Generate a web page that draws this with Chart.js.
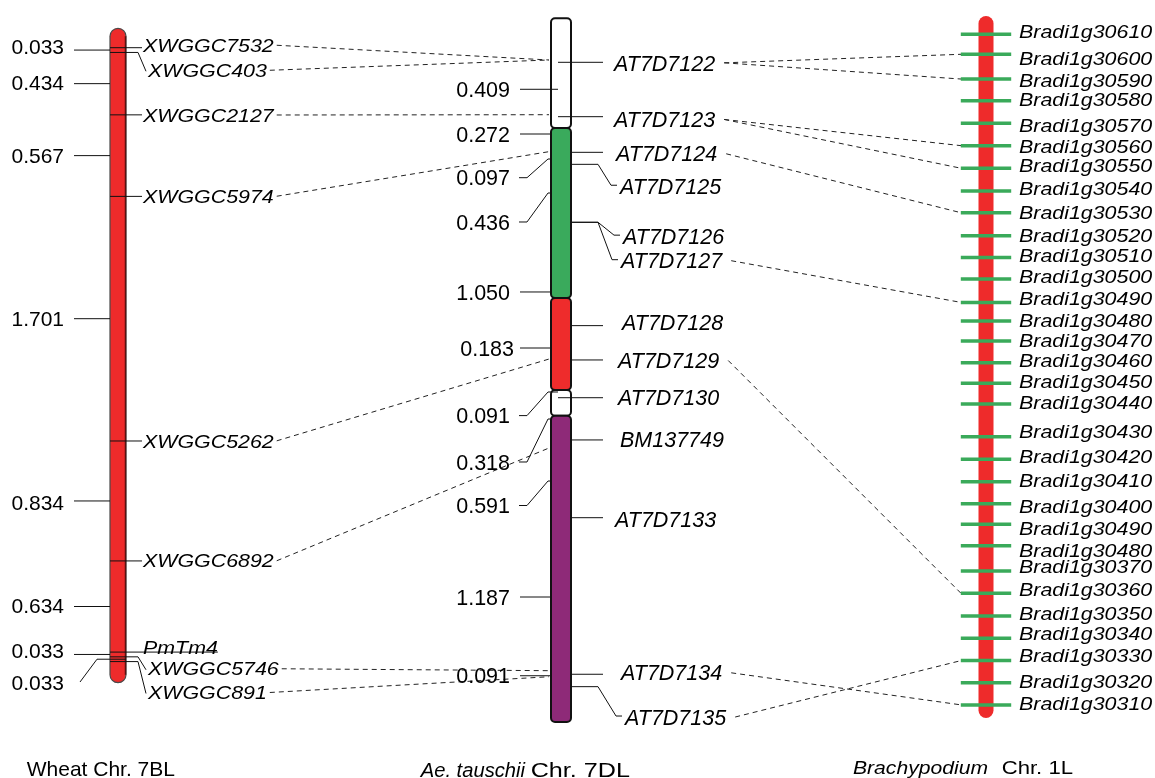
<!DOCTYPE html>
<html><head><meta charset="utf-8">
<script src="https://cdn.jsdelivr.net/npm/chart.js@4.4.0/dist/chart.umd.min.js"></script>
<style>html,body{margin:0;padding:0;background:#fff}#wrap{width:1155px;height:778px;position:relative}</style>
</head><body><div id="wrap"><canvas id="c"></canvas></div>
<script>
// ---------- Wheat Chr. 7BL (positions in cM) ----------
const wheatMarkers = ["XWGGC7532","XWGGC403","XWGGC2127","XWGGC5974","XWGGC5262","XWGGC6892","PmTm4","XWGGC5746","XWGGC891"];
const wheatIntervals = [0.033,0.434,0.567,1.701,0.834,0.634,0.033,0.033];
const wheatIntervalText = ["0.033","0.434","0.567","1.701","0.834","0.634","0.033","0.033"];
const wheatLabelPos = [-0.017,0.157,0.468,1.033,2.734,3.568,4.168,4.319,4.484];
const wheatIntervalLabelPos = [-0.007,0.245,0.751,1.880,3.166,3.882,4.194,4.411];
const wheatLeader = ["s","b","s","s","s","s","u","b","b"];
const wheatChromExtent = [-0.135,4.416];

// ---------- Ae. tauschii Chr. 7DL (positions in cM) ----------
const aeMarkers = ["AT7D7122","AT7D7123","AT7D7124","AT7D7125","AT7D7126","AT7D7127","AT7D7128","AT7D7129","AT7D7130","BM137749","AT7D7133","AT7D7134","AT7D7135"];
const aePositions = [0,0.412,0.682,0.773,1.212,1.212,1.995,2.255,2.541,2.861,3.450,4.636,4.730];
const aeLabelPos = [0.004,0.433,0.693,0.939,1.317,1.503,1.973,2.259,2.539,2.855,3.464,4.625,4.960];
const aeIntervalText = ["0.409","0.272","0.097","0.436","1.050","0.183","0.091","0.318","0.591","1.187","0.091"];
const aeIntervalTickPos = [0.2045,0.5432,0.7326,0.9902,1.740,2.1644,2.4977,2.7023,3.1720,4.0508,4.6473];
const aeIntervalLabelPos = [0.2045,0.5432,0.8742,1.2098,1.740,2.1644,2.6765,3.0280,3.3576,4.0508,4.6473];
const aeSegmentStart = [-0.333,0.498,1.786,2.483,2.677];
const aeSegmentEnd   = [0.498,1.786,2.483,2.677,4.998];
const aeSegmentColor = [null,"#3aaa5c","#ee2c2c",null,"#8e2a78"];

// ---------- Brachypodium Chr. 1L (relative physical order units) ----------
const bradiGenes = ["Bradi1g30610","Bradi1g30600","Bradi1g30590","Bradi1g30580","Bradi1g30570","Bradi1g30560","Bradi1g30550","Bradi1g30540","Bradi1g30530","Bradi1g30520","Bradi1g30510","Bradi1g30500","Bradi1g30490","Bradi1g30480","Bradi1g30470","Bradi1g30460","Bradi1g30450","Bradi1g30440","Bradi1g30430","Bradi1g30420","Bradi1g30410","Bradi1g30400","Bradi1g30490","Bradi1g30480","Bradi1g30370","Bradi1g30360","Bradi1g30350","Bradi1g30340","Bradi1g30330","Bradi1g30320","Bradi1g30310"];
const bradiPositions = [0,0.894,2.0,2.97,3.98,4.98,5.99,7.01,7.98,9.01,9.98,10.94,11.99,12.82,13.72,14.69,15.61,16.53,18.0,19.01,20.01,21.0,21.91,22.87,24.0,25.0,26.01,27.01,28.01,29.0,29.99];
const bradiLabelPos = [-0.116,1.073,2.044,2.907,4.056,4.995,5.877,6.887,7.979,9.007,9.870,10.81,11.81,12.78,13.68,14.57,15.51,16.48,17.77,18.86,19.93,21.13,22.09,23.06,23.81,24.82,25.89,26.79,27.76,28.95,29.91];
const bradiChromExtent = [-0.818,30.58];

// ---------- Synteny links ----------
const wheatAeLinks = [[0,0],[1,0],[2,1],[3,2],[4,7],[5,9],[7,11],[8,11]];
const wheatAeLinkEnd = [-0.0174,-0.0174,0.397,0.677,2.248,2.922,4.609,4.655];
const aeBradiLinks = [[0,1],[0,2],[1,5],[1,6],[2,8],[5,12],[7,25],[11,30],[12,28]];

// ---------- Titles ----------
const titles = [
  [["Wheat Chr. 7BL", false, 26.7, 175]],
  [["Ae. tauschii", true, 420.7, 525], ["Chr. 7DL", false, 530.7, 630]],
  [["Brachypodium", true, 853, 988], ["Chr. 1L", false, 1001.7, 1073]]
];

const FONT = '"Liberation Sans", Arial, Helvetica, sans-serif';
function setFont(ctx, size, italic){ ctx.font = (italic?'italic ':'') + size + 'px ' + FONT; }
function textW(ctx, s, size, italic, sx){ ctx.save(); setFont(ctx,size,italic); const w = ctx.measureText(s).width*(sx||1); ctx.restore(); return w; }
function txt(ctx, s, x, yc, size, italic, sx, align){
  ctx.save(); setFont(ctx,size,italic); ctx.textAlign = align||'left'; ctx.textBaseline='alphabetic';
  ctx.fillStyle='#000'; ctx.translate(x, yc + 0.358*size); ctx.scale(sx||1,1); ctx.fillText(s,0,0); ctx.restore();
}
function fitTxt(ctx, s, x0, x1, base, size, italic){
  ctx.save(); setFont(ctx,size,italic); const w = ctx.measureText(s).width; ctx.textAlign='left'; ctx.textBaseline='alphabetic';
  ctx.fillStyle='#000'; ctx.translate(x0, base); ctx.scale((x1-x0)/w,1); ctx.fillText(s,0,0); ctx.restore();
}
function line(ctx, pts, color, lw, dash){
  ctx.save(); ctx.strokeStyle=color||'#111'; ctx.lineWidth=lw||1; ctx.setLineDash(dash||[]);
  ctx.beginPath(); ctx.moveTo(pts[0][0],pts[0][1]); for(let i=1;i<pts.length;i++) ctx.lineTo(pts[i][0],pts[i][1]); ctx.stroke(); ctx.restore();
}
function rrect(ctx,x,y,w,h,r){ ctx.beginPath(); ctx.roundRect(x,y,w,h,r); }

const WL = 110, WR = 126;          // wheat chromosome edges
const AL = 551, AR = 571, AIN = 558; // Ae chromosome edges
const BC = 986, BW = 15;           // Brachypodium chromosome centre / width
const WF = 18.6, WSX = 1.15;       // wheat marker label font
const AF = 21.5;                   // Ae label font
const BF = 18.6, BSX = 1.15;       // Brachy label font

const mapPlugin = {
  id: 'geneticMap',
  beforeDatasetsDraw(chart){
    const ctx = chart.ctx, S = chart.scales;
    const X = v => S.x.getPixelForValue(v);
    const yW = v => S.yW.getPixelForValue(v);
    const yA = v => S.yA.getPixelForValue(v);
    const yB = v => S.yB.getPixelForValue(v);
    const wheatPos = [0]; wheatIntervals.forEach(d => wheatPos.push(+(wheatPos[wheatPos.length-1]+d).toFixed(3)));
    const wheatLabelX = wheatLeader.map(t => t==='b' ? 148 : 143);
    const DASH = [5,4], DC = '#222';

    // ---- dashed synteny links ----
    wheatAeLinks.forEach(([w,a],i) => {
      const x0 = X(wheatLabelX[w]) + textW(ctx, wheatMarkers[w], WF, true, WSX) + 3;
      line(ctx, [[x0, yW(wheatLabelPos[w])],[X(AL-2), yA(wheatAeLinkEnd[i])]], DC, 1, DASH);
    });
    const aeLabelX = [614,614,616,620,623,621,622,618,618,620,615,621,625];
    aeBradiLinks.forEach(([a,b]) => {
      const x0 = X(aeLabelX[a]) + textW(ctx, aeMarkers[a], AF, true, 1) + 9;
      line(ctx, [[x0, yA(aeLabelPos[a])],[X(BC-25), yB(bradiPositions[b])]], DC, 1, DASH);
    });

    // ---- wheat chromosome ----
    ctx.save();
    rrect(ctx, X(WL), yW(wheatChromExtent[0]), X(WR)-X(WL), yW(wheatChromExtent[1])-yW(wheatChromExtent[0]), 8);
    ctx.fillStyle='#ee2b2b'; ctx.fill(); ctx.strokeStyle='#4a4a4a'; ctx.lineWidth=1.2; ctx.stroke(); ctx.restore();
    line(ctx, [[X(WR)-0.5, yW(wheatChromExtent[0])+8],[X(WR)-0.5, yW(wheatChromExtent[1])-8]], '#5a1010', 1.5);
    // interval ticks
    wheatIntervals.forEach((d,i) => {
      const t = (wheatPos[i]+wheatPos[i+1])/2, ty = yW(t), ly = yW(wheatIntervalLabelPos[i]);
      txt(ctx, wheatIntervalText[i], X(64), ly, 21, false, 1, 'right');
      if (Math.abs(ly-ty) < 6) line(ctx, [[X(74),ty],[X(WL),ty]]);
      else line(ctx, [[X(80),ly],[X(97),ty],[X(WR),ty]]);
    });
    // markers
    wheatMarkers.forEach((m,i) => {
      const my = yW(wheatPos[i]), ly = yW(wheatLabelPos[i]), lx = X(wheatLabelX[i]);
      const w = textW(ctx, m, WF, true, WSX);
      if (wheatLeader[i]==='s') line(ctx, [[X(WL),my],[lx-1,my]]);
      else if (wheatLeader[i]==='u') line(ctx, [[X(WL),my],[lx+w,my]]);
      else line(ctx, [[X(WL),my],[X(138),my],[lx-2,ly+1]]);
      txt(ctx, m, lx, ly, WF, true, WSX);
    });

    // ---- Ae. tauschii ----
    aeIntervalText.forEach((s,i) => {
      const ty = yA(aeIntervalTickPos[i]), ly = yA(aeIntervalLabelPos[i]);
      if (Math.abs(ly-ty) < 6) line(ctx, [[X(520),ty],[X(AIN),ty]]);
      else line(ctx, [[X(519),ly],[X(527),ly],[X(548),ty],[X(AIN),ty]]);
    });
    aeMarkers.forEach((m,i) => {
      const my = yA(aePositions[i]), ly = yA(aeLabelPos[i]), lx = X(aeLabelX[i]);
      if (Math.abs(ly-my) < 6) line(ctx, [[X(AIN),my],[X(603),my]]);
      else line(ctx, [[X(AIN),my],[X(598),my],[lx-9,ly-1],[lx-3,ly-1]]);
    });
    aeSegmentStart.forEach((s,i) => {
      ctx.save();
      rrect(ctx, X(AL), yA(s), X(AR)-X(AL), yA(aeSegmentEnd[i])-yA(s), 4);
      if (aeSegmentColor[i]) { ctx.fillStyle = aeSegmentColor[i]; ctx.fill(); }
      ctx.strokeStyle='#111'; ctx.lineWidth=2; ctx.stroke(); ctx.restore();
    });
    aeIntervalText.forEach((s,i) => txt(ctx, s, X(s==="0.183"?514:510), yA(aeIntervalLabelPos[i]), AF, false, 1, 'right'));
    aeMarkers.forEach((m,i) => txt(ctx, m, X(aeLabelX[i]), yA(aeLabelPos[i]), AF, true, 1));

    // ---- Brachypodium chromosome ----
    ctx.save();
    rrect(ctx, X(BC)-BW/2, yB(bradiChromExtent[0]), BW, yB(bradiChromExtent[1])-yB(bradiChromExtent[0]), BW/2);
    ctx.fillStyle='#ee2b2b'; ctx.fill(); ctx.restore();
  },
  afterDatasetsDraw(chart){
    const ctx = chart.ctx, S = chart.scales;
    const X = v => S.x.getPixelForValue(v);
    const yB = v => S.yB.getPixelForValue(v);
    bradiGenes.forEach((g,i) => txt(ctx, g, X(1019), yB(bradiLabelPos[i]), BF, true, BSX));
    // titles
    fitTxt(ctx, titles[0][0][0], titles[0][0][2], titles[0][0][3], 776, 21, false);
    titles[1].forEach(t => fitTxt(ctx, t[0], t[2], t[3], 776.5, 19.5, t[1]));
    titles[2].forEach(t => fitTxt(ctx, t[0], t[2], t[3], 774, 19, t[1]));
  }
};

new Chart(document.getElementById('c'), {
  type: 'scatter',
  data: { datasets: [{
    label: 'Brachypodium genes',
    xAxisID: 'x', yAxisID: 'yB',
    data: bradiPositions.map(p => ({x: BC, y: p})),
    pointStyle: 'line', pointRadius: 25.2, pointHoverRadius: 25.2,
    borderColor: '#3aaa5a', borderWidth: 3.5, showLine: false, clip: false
  }]},
  options: {
    responsive: true, maintainAspectRatio: false, animation: false, events: [],
    layout: { padding: 0, autoPadding: false },
    plugins: { legend: { display: false }, tooltip: { enabled: false } },
    scales: {
      x:  { type: 'linear', display: false, min: 0, max: 1155 },
      yW: { type: 'linear', axis: 'y', display: false, reverse: true, min: -0.33171, max: 5.07858 },
      yA: { type: 'linear', axis: 'y', display: false, reverse: true, min: -0.47197, max: 5.42197 },
      yB: { type: 'linear', axis: 'y', display: false, reverse: true, min: -1.53399, max: 33.2603 }
    }
  },
  plugins: [mapPlugin]
});
</script></body></html>
